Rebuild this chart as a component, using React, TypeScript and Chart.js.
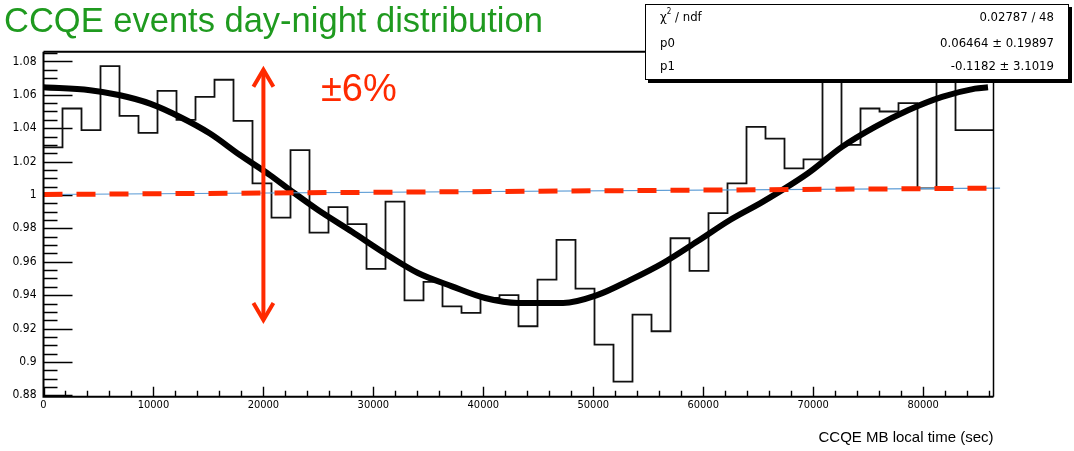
import React, { useEffect, useRef } from "react";
import { Chart, registerables } from "chart.js";

Chart.register(...registerables);

// ---------------- data ----------------
const TITLE = "CCQE events day-night distribution";
const X_TITLE = "CCQE MB local time (sec)";
const ANNOTATION = "±6%";

const DAY_SECONDS = 86400;
const BIN_COUNT = 50;

// histogram contents (50 bins of 1728 s)
const binValues = [
  1.0285, 1.0518, 1.0388, 1.0772, 1.0474, 1.0372, 1.0623, 1.045, 1.0587, 1.069,
  1.0444, 1.007, 0.9864, 1.0269, 0.9775, 0.9927, 0.9825, 0.9558, 0.996, 0.9369,
  0.948, 0.9333, 0.9294, 0.9383, 0.94, 0.9214, 0.9493, 0.9731, 0.9439, 0.9104,
  0.8882, 0.9284, 0.9184, 0.9741, 0.9546, 0.9891, 1.007, 1.0408, 1.0338, 1.0159,
  1.0213, 1.075, 1.03, 1.0518, 1.05, 1.055, 1.004, 1.072, 1.0388, 1.0388,
];

// fitted curve
const fitTimes = [
  0, 4230, 6960, 9690, 12420, 15140, 17870, 20600, 22420, 24970, 28060, 31060,
  34060, 37150, 40160, 43160, 47250, 50340, 53340, 56340, 59440, 62440, 65440,
  69530, 72620, 75630, 78630, 81720, 84720, 85900,
];
const fitValues = [
  1.0645, 1.0627, 1.0597, 1.0547, 1.0467, 1.0368, 1.0239, 1.0119, 1.003, 0.991,
  0.978, 0.965, 0.9533, 0.9453, 0.9383, 0.9353, 0.9353, 0.94, 0.949, 0.9592,
  0.9721, 0.985, 0.996, 1.013, 1.0288, 1.0408, 1.0507, 1.0587, 1.0637, 1.0645,
];

// reference line at 1 (slightly tilted in the slide)
const referenceTimes = [0, 87000];
const referenceValues = [1.0003, 1.0041];

// double arrow annotation
const arrowTime = 20000;
const arrowRange = [0.9233, 1.0768];

// axis ranges / ticks
const X_MIN = 0;
const X_MAX = 86400;
const Y_MIN = 0.8792;
const Y_MAX = 1.0858;
const xTickValues = [0, 10000, 20000, 30000, 40000, 50000, 60000, 70000, 80000];
const X_MINOR_STEP = 2000;
const yTickValues = [0.88, 0.9, 0.92, 0.94, 0.96, 0.98, 1, 1.02, 1.04, 1.06, 1.08];
const Y_MINOR_STEP = 0.005;

// stats box
const statsLabels = ["χ^2 / ndf", "p0", "p1"];
const statsValues = ["0.02787 / 48", "0.06464 ± 0.19897", "-0.1182 ± 3.1019"];

// ---------------- style ----------------
const RED = "#ff2a00";
const GREEN = "#1f9a1f";
const NARROW = "'Liberation Sans Narrow', 'DejaVu Sans Condensed', 'Liberation Sans', Arial, sans-serif";
const SANS = "'Liberation Sans', Arial, Helvetica, sans-serif";

const isNear = (v: number, arr: number[], eps: number) => arr.some((a) => Math.abs(a - v) < eps);

const rootAxesPlugin = {
  id: "rootAxes",
  beforeDatasetsDraw(chart: any) {
    const { ctx, chartArea: a } = chart;
    const xs = chart.scales.x;
    const ys = chart.scales.y;
    ctx.save();
    ctx.strokeStyle = "#000";
    ctx.lineWidth = 1.4;
    ctx.beginPath();
    // y ticks (inside, pointing right)
    const yStart = yTickValues[0];
    for (let k = -20; k < 400; k++) {
      const v = yStart + k * Y_MINOR_STEP;
      if (v < ys.min - 1e-9) continue;
      if (v > ys.max + 1e-9) break;
      const major = isNear(v, yTickValues, 1e-6);
      const py = Math.round(ys.getPixelForValue(v)) + 0.5;
      ctx.moveTo(a.left, py);
      ctx.lineTo(a.left + (major ? 29 : 14), py);
    }
    // x ticks (inside, pointing up)
    for (let k = 0; k < 400; k++) {
      const v = X_MIN + k * X_MINOR_STEP;
      if (v > xs.max + 1e-9) break;
      const major = isNear(v, xTickValues, 1e-3);
      const px = Math.round(xs.getPixelForValue(v)) + 0.5;
      ctx.moveTo(px, a.bottom);
      ctx.lineTo(px, a.bottom - (major ? 10 : 6));
    }
    ctx.stroke();
    ctx.restore();
  },
  afterDatasetsDraw(chart: any) {
    const { ctx, chartArea: a } = chart;
    const xs = chart.scales.x;
    const ys = chart.scales.y;
    ctx.save();
    // frame
    ctx.strokeStyle = "#000";
    ctx.lineWidth = 2;
    ctx.beginPath();
    ctx.moveTo(a.left, a.top);
    ctx.lineTo(a.right, a.top);
    ctx.moveTo(a.left, a.top);
    ctx.lineTo(a.left, a.bottom);
    ctx.lineTo(a.right, a.bottom);
    ctx.stroke();
    ctx.lineWidth = 1.5;
    ctx.beginPath();
    ctx.moveTo(a.right, a.top);
    ctx.lineTo(a.right, a.bottom);
    ctx.stroke();

    // red double arrow
    const px = xs.getPixelForValue(arrowTime);
    const top = ys.getPixelForValue(arrowRange[1]);
    const bot = ys.getPixelForValue(arrowRange[0]);
    ctx.strokeStyle = RED;
    ctx.lineWidth = 4;
    ctx.lineCap = "butt";
    ctx.lineJoin = "miter";
    ctx.beginPath();
    ctx.moveTo(px, top + 3);
    ctx.lineTo(px, bot - 3);
    ctx.stroke();
    ctx.beginPath();
    ctx.moveTo(px - 10, top + 20);
    ctx.lineTo(px, top + 3);
    ctx.lineTo(px + 10, top + 20);
    ctx.stroke();
    ctx.beginPath();
    ctx.moveTo(px - 10, bot - 20);
    ctx.lineTo(px, bot - 3);
    ctx.lineTo(px + 10, bot - 20);
    ctx.stroke();
    ctx.restore();
  },
};

function StatsLabel({ text }: { text: string }) {
  const parts = text.split("^");
  if (parts.length === 1) return <span>{text}</span>;
  return (
    <span>
      {parts[0]}
      <span style={{ fontSize: 8, position: "relative", top: -7 }}>{parts[1].charAt(0)}</span>
      {parts[1].slice(1)}
    </span>
  );
}

export default function App() {
  const canvasRef = useRef<HTMLCanvasElement>(null);

  useEffect(() => {
    const canvas = canvasRef.current;
    if (!canvas) return;
    const binWidth = DAY_SECONDS / BIN_COUNT;
    const histData = binValues.map((v, i) => ({ x: i * binWidth, y: v }));
    histData.push({ x: DAY_SECONDS, y: binValues[binValues.length - 1] });
    const fitData = fitTimes.map((t, i) => ({ x: t, y: fitValues[i] }));
    const refData = referenceTimes.map((t, i) => ({ x: t, y: referenceValues[i] }));

    const chart = new Chart(canvas, {
      type: "line",
      data: {
        datasets: [
          {
            label: "reference",
            data: refData,
            borderColor: RED,
            borderWidth: 5,
            borderDash: [19, 14],
            borderCapStyle: "butt",
            pointRadius: 0,
            clip: false as any,
            order: 0,
          },
          {
            label: "reference thin",
            data: refData,
            borderColor: "#5b9bd5",
            borderWidth: 1.2,
            pointRadius: 0,
            clip: false as any,
            order: 1,
          },
          {
            label: "fit",
            data: fitData,
            borderColor: "#000",
            borderWidth: 6,
            cubicInterpolationMode: "monotone",
            pointRadius: 0,
            order: 2,
          },
          {
            label: "histogram",
            data: histData,
            borderColor: "#111",
            borderWidth: 1.8,
            stepped: "before",
            pointRadius: 0,
            order: 3,
          },
        ] as any,
      },
      options: {
        responsive: false,
        maintainAspectRatio: false,
        animation: false,
        events: [],
        layout: { padding: { top: 51.7, right: 80.5, left: 0, bottom: 0 } },
        plugins: {
          legend: { display: false },
          tooltip: { enabled: false },
          title: { display: false },
        },
        scales: {
          x: {
            type: "linear",
            min: X_MIN,
            max: X_MAX,
            grid: { display: false, drawTicks: false },
            border: { display: false },
            afterFit: (scale: any) => {
              scale.height = 54.3;
            },
            afterBuildTicks: (scale: any) => {
              scale.ticks = xTickValues.map((v) => ({ value: v }));
            },
            ticks: {
              autoSkip: false,
              maxRotation: 0,
              padding: 2,
              color: "#000",
              font: { family: NARROW, size: 11 },
              callback: (v: any) => String(v),
            },
            title: {
              display: true,
              text: X_TITLE,
              align: "end",
              color: "#000",
              font: { family: SANS, size: 15 },
              padding: { top: 0, bottom: 4 },
            },
          },
          y: {
            type: "linear",
            min: Y_MIN,
            max: Y_MAX,
            grid: { display: false, drawTicks: false },
            border: { display: false },
            afterFit: (scale: any) => {
              scale.width = 43.5;
            },
            afterBuildTicks: (scale: any) => {
              scale.ticks = yTickValues.map((v) => ({ value: v }));
            },
            ticks: {
              autoSkip: false,
              padding: 7,
              color: "#000",
              font: { family: NARROW, size: 12 },
              callback: (v: any) => String(parseFloat(Number(v).toFixed(3))),
            },
          },
        },
      } as any,
      plugins: [rootAxesPlugin],
    });
    return () => chart.destroy();
  }, []);

  const rowTops = [4, 30, 53];

  return (
    <div
      style={{
        position: "absolute",
        left: 0,
        top: 0,
        width: 1074,
        height: 451,
        overflow: "hidden",
        background: "#fff",
      }}
    >
      <canvas
        ref={canvasRef}
        width={1074}
        height={451}
        style={{ position: "absolute", left: 0, top: 0, width: 1074, height: 451 }}
      />
      <div
        style={{
          position: "absolute",
          left: 4,
          top: 3,
          fontFamily: SANS,
          fontSize: 34.5,
          lineHeight: "34px",
          color: GREEN,
          whiteSpace: "nowrap",
        }}
      >
        {TITLE}
      </div>
      <div
        style={{
          position: "absolute",
          left: 321,
          top: 69,
          fontFamily: SANS,
          fontSize: 38,
          lineHeight: "38px",
          color: RED,
          whiteSpace: "nowrap",
        }}
      >
        {ANNOTATION}
      </div>
      <div
        style={{
          position: "absolute",
          left: 645,
          top: 4,
          width: 424,
          height: 76,
          boxSizing: "border-box",
          background: "#fff",
          border: "1px solid #000",
          boxShadow: "3px 3px 0 #000",
          fontFamily: NARROW,
          fontSize: 13,
          color: "#000",
        }}
      >
        {statsLabels.map((lab, i) => (
          <React.Fragment key={lab}>
            <div
              style={{
                position: "absolute",
                left: 14,
                top: rowTops[i],
                lineHeight: "16px",
                whiteSpace: "nowrap",
              }}
            >
              <StatsLabel text={lab} />
            </div>
            <div
              style={{
                position: "absolute",
                right: 14,
                top: rowTops[i],
                lineHeight: "16px",
                whiteSpace: "nowrap",
                textAlign: "right",
              }}
            >
              {statsValues[i]}
            </div>
          </React.Fragment>
        ))}
      </div>
    </div>
  );
}
